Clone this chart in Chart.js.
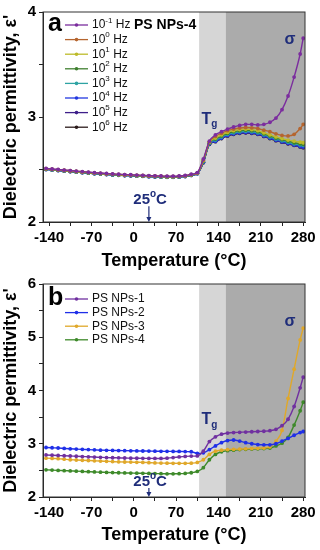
<!DOCTYPE html>
<html>
<head>
<meta charset="utf-8">
<script src="https://cdn.jsdelivr.net/npm/chart.js@4.4.1/dist/chart.umd.min.js"></script>
<style>
  body { margin: 0; background: #fff; }
  canvas { display: block; }
</style>
</head>
<body>
<canvas id="chartA" width="320" height="272"></canvas>
<canvas id="chartB" width="320" height="278"></canvas>
<script>
// temperature points (°C) shared by every curve
const temps = [-145, -135, -125, -115, -105, -95, -85, -75, -65, -55, -45, -35, -25, -15, -5,
    5, 15, 25, 35, 45, 55, 65, 75, 85, 95, 105, 115, 125, 135, 145, 155, 165, 175, 185,
    195, 205, 215, 225, 235, 245, 255, 265, 275, 280];

// panel a: PS NPs-4 at several frequencies
const freqLabels = ['10^{-1} Hz', '10^{0} Hz', '10^{1} Hz', '10^{2} Hz', '10^{3} Hz', '10^{4} Hz', '10^{5} Hz', '10^{6} Hz'];
const freqColors = ['#7b2d9e', '#b5652f', '#bdbb2a', '#3f7f2f', '#2ea3a3', '#2338e0', '#3e1f8a', '#2b1b1b'];
const epsM1 = [2.510, 2.505, 2.500, 2.495, 2.490, 2.485, 2.480, 2.475, 2.470, 2.466, 2.462, 2.458, 2.455, 2.452, 2.450,
    2.447, 2.445, 2.442, 2.440, 2.438, 2.436, 2.436, 2.438, 2.443, 2.455, 2.470, 2.600, 2.770,
    2.830, 2.860, 2.885, 2.905, 2.920, 2.930, 2.930, 2.925, 2.930, 2.950, 2.990, 3.070, 3.200, 3.380, 3.600, 3.750];
const eps0 = [2.508, 2.503, 2.498, 2.493, 2.488, 2.483, 2.478, 2.473, 2.468, 2.464, 2.460, 2.456, 2.453, 2.450, 2.448,
    2.445, 2.443, 2.440, 2.438, 2.436, 2.434, 2.434, 2.436, 2.441, 2.452, 2.468, 2.590, 2.765,
    2.815, 2.845, 2.870, 2.885, 2.895, 2.900, 2.897, 2.890, 2.875, 2.860, 2.840, 2.825, 2.820, 2.835, 2.890, 2.930];
const eps1 = [2.506, 2.501, 2.496, 2.491, 2.486, 2.481, 2.476, 2.471, 2.466, 2.462, 2.458, 2.454, 2.451, 2.448, 2.446,
    2.443, 2.441, 2.438, 2.436, 2.434, 2.432, 2.432, 2.434, 2.439, 2.450, 2.466, 2.585, 2.760,
    2.800, 2.830, 2.855, 2.870, 2.880, 2.885, 2.880, 2.870, 2.850, 2.830, 2.810, 2.795, 2.780, 2.770, 2.760, 2.755];
const eps2 = [2.504, 2.499, 2.494, 2.489, 2.484, 2.479, 2.474, 2.469, 2.464, 2.460, 2.456, 2.452, 2.449, 2.446, 2.444,
    2.441, 2.439, 2.436, 2.434, 2.432, 2.430, 2.430, 2.432, 2.437, 2.448, 2.464, 2.580, 2.755,
    2.790, 2.820, 2.845, 2.860, 2.870, 2.875, 2.870, 2.860, 2.840, 2.820, 2.800, 2.785, 2.770, 2.755, 2.745, 2.740];
const eps3 = [2.502, 2.497, 2.492, 2.487, 2.482, 2.477, 2.472, 2.467, 2.462, 2.458, 2.454, 2.450, 2.447, 2.444, 2.442,
    2.439, 2.437, 2.434, 2.432, 2.430, 2.428, 2.428, 2.430, 2.435, 2.446, 2.462, 2.575, 2.750,
    2.780, 2.810, 2.835, 2.850, 2.860, 2.865, 2.860, 2.850, 2.830, 2.810, 2.790, 2.775, 2.760, 2.745, 2.735, 2.730];
const eps4 = [2.500, 2.495, 2.490, 2.485, 2.480, 2.475, 2.470, 2.465, 2.460, 2.456, 2.452, 2.448, 2.445, 2.442, 2.440,
    2.437, 2.435, 2.432, 2.430, 2.428, 2.426, 2.426, 2.428, 2.433, 2.444, 2.460, 2.570, 2.745,
    2.770, 2.800, 2.825, 2.840, 2.850, 2.855, 2.850, 2.840, 2.820, 2.800, 2.780, 2.765, 2.750, 2.735, 2.720, 2.715];
const eps5 = [2.503, 2.498, 2.493, 2.488, 2.483, 2.478, 2.473, 2.468, 2.463, 2.459, 2.455, 2.451, 2.448, 2.445, 2.443,
    2.440, 2.438, 2.435, 2.433, 2.431, 2.429, 2.429, 2.431, 2.436, 2.447, 2.463, 2.570, 2.742,
    2.768, 2.797, 2.822, 2.838, 2.848, 2.852, 2.848, 2.838, 2.818, 2.798, 2.778, 2.762, 2.747, 2.732, 2.718, 2.712];
const eps6 = [2.501, 2.496, 2.491, 2.486, 2.481, 2.476, 2.471, 2.466, 2.461, 2.457, 2.453, 2.449, 2.446, 2.443, 2.441,
    2.438, 2.436, 2.433, 2.431, 2.429, 2.427, 2.427, 2.429, 2.434, 2.445, 2.461, 2.565, 2.740,
    2.765, 2.795, 2.820, 2.835, 2.845, 2.850, 2.845, 2.835, 2.815, 2.795, 2.775, 2.760, 2.745, 2.730, 2.715, 2.708];

// panel b: four samples
const sampleLabels = ['PS NPs-1', 'PS NPs-2', 'PS NPs-3', 'PS NPs-4'];
const sampleColors = ['#7030a0', '#1f2fe8', '#e0a82a', '#3e8a2a'];
const np1 = [2.790, 2.785, 2.780, 2.775, 2.770, 2.765, 2.760, 2.755, 2.750, 2.745, 2.740, 2.737, 2.735, 2.732, 2.730,
    2.728, 2.726, 2.725, 2.724, 2.724, 2.730, 2.740, 2.752, 2.762, 2.768, 2.772, 2.860, 3.040,
    3.130, 3.180, 3.200, 3.210, 3.215, 3.220, 3.225, 3.230, 3.235, 3.245, 3.270, 3.340, 3.460, 3.700, 4.050, 4.250];
const np2 = [2.930, 2.925, 2.920, 2.912, 2.905, 2.900, 2.895, 2.890, 2.885, 2.880, 2.877, 2.875, 2.872, 2.870, 2.868,
    2.866, 2.864, 2.862, 2.860, 2.858, 2.857, 2.856, 2.855, 2.853, 2.850, 2.820, 2.830, 2.890,
    2.960, 3.020, 3.060, 3.070, 3.050, 3.020, 3.000, 2.985, 2.980, 2.980, 3.000, 3.050, 3.100, 3.160, 3.210, 3.230];
const np3 = [2.730, 2.725, 2.720, 2.710, 2.700, 2.695, 2.690, 2.685, 2.680, 2.675, 2.670, 2.665, 2.660, 2.657, 2.655,
    2.652, 2.650, 2.645, 2.640, 2.637, 2.635, 2.633, 2.632, 2.632, 2.635, 2.650, 2.700, 2.800,
    2.860, 2.880, 2.890, 2.895, 2.900, 2.905, 2.910, 2.915, 2.920, 2.940, 3.050, 3.250, 3.850, 4.400, 4.950, 5.170];
const np4 = [2.510, 2.505, 2.500, 2.495, 2.490, 2.485, 2.480, 2.475, 2.470, 2.466, 2.462, 2.458, 2.455, 2.452, 2.450,
    2.447, 2.445, 2.442, 2.440, 2.438, 2.436, 2.436, 2.438, 2.443, 2.455, 2.480, 2.550, 2.700,
    2.800, 2.850, 2.870, 2.880, 2.890, 2.895, 2.900, 2.905, 2.910, 2.920, 2.960, 3.010, 3.120, 3.350, 3.620, 3.780];

const xTicks = { min: -150, max: 283, step: 35 };
const tgZone = [108, 152];

const FONT = '"Liberation Sans", Arial, sans-serif';
const NAVY = '#1f2d7a';
Chart.defaults.font.family = FONT;
Chart.defaults.color = '#000';

// draws strings like "10^{-1} Hz" or "T_{g}" with raised / lowered parts
function richText(ctx, str, x, y, size, weight, color, align) {
    const parts = [];
    let last = 0;
    str.replace(/([\^_])\{([^}]*)\}/g, (m, k, t, i) => {
        if (i > last) parts.push({ t: str.slice(last, i), k: '' });
        parts.push({ t, k });
        last = i + m.length;
    });
    if (last < str.length) parts.push({ t: str.slice(last), k: '' });
    const fontFor = k => `${weight} ${k ? Math.round(size * 0.65) : size}px ${FONT}`;
    let w = 0;
    parts.forEach(p => { ctx.font = fontFor(p.k); p.w = ctx.measureText(p.t).width; w += p.w; });
    let cx = align === 'center' ? x - w / 2 : x;
    ctx.fillStyle = color;
    ctx.textBaseline = 'middle';
    ctx.textAlign = 'left';
    parts.forEach(p => {
        ctx.font = fontFor(p.k);
        const dy = p.k === '^' ? -size * 0.38 : p.k === '_' ? size * 0.35 : 0;
        ctx.fillText(p.t, cx, y + dy);
        cx += p.w;
    });
}

const deco = {
    id: 'deco',
    beforeDatasetsDraw(chart, args, o) {
        const { ctx, chartArea: a, scales: { x } } = chart;
        const x1 = x.getPixelForValue(tgZone[0]), x2 = x.getPixelForValue(tgZone[1]);
        ctx.save();
        ctx.fillStyle = '#d6d6d6';
        ctx.fillRect(x1, a.top, x2 - x1, a.bottom - a.top);
        ctx.fillStyle = '#ababab';
        ctx.fillRect(x2, a.top, a.right - x2, a.bottom - a.top);
        ctx.restore();
    },
    afterDatasetsDraw(chart, args, o) {
        const { ctx, chartArea: a, scales: { x, y } } = chart;
        ctx.save();
        // frame
        ctx.strokeStyle = '#333';
        ctx.lineWidth = 1;
        ctx.strokeRect(a.left, a.top, a.right - a.left, a.bottom - a.top);

        // notes (Tg, sigma, 25°C)
        o.notes.forEach(n => {
            richText(ctx, n.text, x.getPixelForValue(n.x), y.getPixelForValue(n.y), n.size, 'bold', NAVY, n.align);
        });
        // arrow at 25 °C
        const ax = x.getPixelForValue(o.arrow.x);
        const ay1 = y.getPixelForValue(o.arrow.from), ay2 = y.getPixelForValue(o.arrow.to);
        ctx.strokeStyle = NAVY;
        ctx.fillStyle = NAVY;
        ctx.lineWidth = 1.2;
        ctx.beginPath();
        ctx.moveTo(ax, ay1);
        ctx.lineTo(ax, ay2 - 3);
        ctx.stroke();
        ctx.beginPath();
        ctx.moveTo(ax - 2.5, ay2 - 5);
        ctx.lineTo(ax + 2.5, ay2 - 5);
        ctx.lineTo(ax, ay2);
        ctx.closePath();
        ctx.fill();

        // panel letter and heading
        ctx.fillStyle = '#000';
        ctx.font = `bold 25px ${FONT}`;
        ctx.textBaseline = 'middle';
        ctx.textAlign = 'left';
        ctx.fillText(o.letter, 48, o.legendY - 1);
        if (o.heading) {
            ctx.font = `bold 14px ${FONT}`;
            ctx.fillText(o.heading, 134, o.legendY);
        }

        // legend
        chart.data.datasets.forEach((ds, i) => {
            const ly = o.legendY + i * o.legendStep;
            ctx.strokeStyle = ds.borderColor;
            ctx.lineWidth = 1.3;
            ctx.beginPath();
            ctx.moveTo(65, ly);
            ctx.lineTo(88, ly);
            ctx.stroke();
            ctx.fillStyle = ds.borderColor;
            ctx.beginPath();
            ctx.arc(76.5, ly, 1.8, 0, Math.PI * 2);
            ctx.fill();
            richText(ctx, ds.label, 92, ly, 12, 'normal', '#111', 'left');
        });
        ctx.restore();
    }
};

function makeDatasets(labels, colors, series) {
    return series.map((vals, i) => ({
        label: labels[i],
        data: vals.map((v, j) => ({ x: temps[j], y: v })),
        borderColor: colors[i],
        backgroundColor: colors[i],
        borderWidth: 1.4,
        pointRadius: 1.9,
        pointBorderWidth: 0,
        pointBackgroundColor: colors[i],
        cubicInterpolationMode: 'monotone'
    }));
}

function makeOptions(yMin, yMax, axisH, titlePad, topPad, deco) {
    const tickFont = { size: 15, weight: 'bold' };
    const titleFont = { size: 18, weight: 'bold' };
    return {
        responsive: false,
        animation: false,
        layout: { padding: { top: topPad, right: 15, left: 0, bottom: 0 } },
        plugins: { legend: { display: false }, tooltip: { enabled: false }, deco },
        scales: {
            x: {
                type: 'linear',
                min: xTicks.min,
                max: xTicks.max,
                ticks: {
                    stepSize: xTicks.step,
                    includeBounds: false,
                    autoSkip: false,
                    maxRotation: 0,
                    padding: 3,
                    font: tickFont,
                    color: '#000',
                    callback: v => (v % 70 === 0 ? v : '')
                },
                grid: { drawOnChartArea: false, tickLength: 4, color: '#222' },
                border: { color: '#222' },
                title: { display: true, text: 'Temperature (°C)', font: titleFont, color: '#000', padding: { top: 0, bottom: titlePad } },
                afterFit: s => { s.height = axisH; }
            },
            y: {
                min: yMin,
                max: yMax,
                ticks: {
                    stepSize: 0.5,
                    padding: 3,
                    font: tickFont,
                    color: '#000',
                    callback: v => (Number.isInteger(v) ? v : '')
                },
                grid: { drawOnChartArea: false, tickLength: 4, color: '#222' },
                border: { color: '#222' },
                title: { display: true, text: "Dielectric permittivity, ε'", font: titleFont, color: '#000', padding: { top: 0, bottom: 0 } },
                afterFit: s => { s.width = 43; }
            }
        }
    };
}

new Chart(document.getElementById('chartA'), {
    type: 'line',
    data: { datasets: makeDatasets(freqLabels, freqColors, [epsM1, eps0, eps1, eps2, eps3, eps4, eps5, eps6]) },
    options: makeOptions(2, 4, 50, 0, 10, {
        letter: 'a',
        heading: 'PS NPs-4',
        legendY: 25,
        legendStep: 14.6,
        notes: [
            { text: 'T_{g}', x: 112, y: 2.98, size: 16, align: 'left' },
            { text: 'σ', x: 258, y: 3.74, size: 16, align: 'center' },
            { text: '25^{o}C', x: 27, y: 2.21, size: 15, align: 'center' }
        ],
        arrow: { x: 25, from: 2.15, to: 2 }
    }),
    plugins: [deco]
});

new Chart(document.getElementById('chartB'), {
    type: 'line',
    data: { datasets: makeDatasets(sampleLabels, sampleColors, [np1, np2, np3, np4]) },
    options: makeOptions(2, 6, 53, 4, 12, {
        letter: 'b',
        heading: '',
        legendY: 27,
        legendStep: 13.6,
        notes: [
            { text: 'T_{g}', x: 112, y: 3.46, size: 16, align: 'left' },
            { text: 'σ', x: 258, y: 5.30, size: 16, align: 'center' },
            { text: '25^{o}C', x: 27, y: 2.28, size: 15, align: 'center' }
        ],
        arrow: { x: 25, from: 2.17, to: 2 }
    }),
    plugins: [deco]
});
</script>
</body>
</html>
